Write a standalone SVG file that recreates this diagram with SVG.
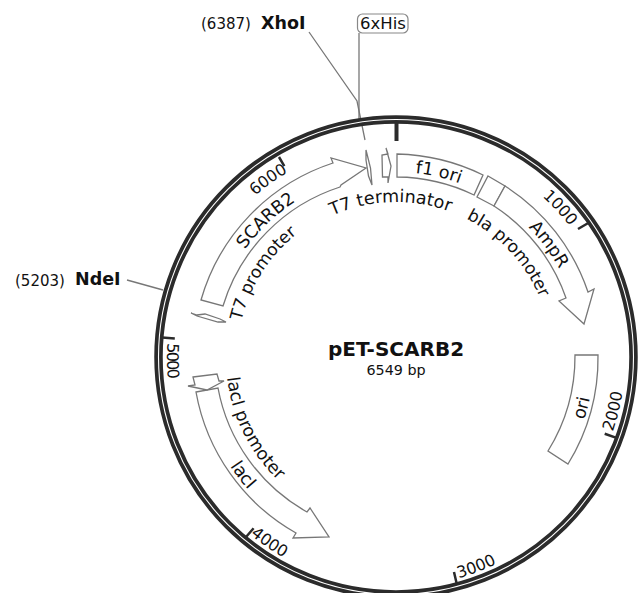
<svg xmlns="http://www.w3.org/2000/svg" width="638" height="593" viewBox="0 0 638 593">
<style>
text{font-family:"DejaVu Sans",Verdana,sans-serif;fill:#111}
.f{fill:#fff;stroke:#777;stroke-width:1.3;stroke-linejoin:miter}
.l{font-size:17.5px;text-anchor:middle}
.t{font-size:16px;text-anchor:middle}
.s{font-size:15px}
.b{font-size:17.500px;font-weight:bold}
.c{fill:none;stroke:#777;stroke-width:1.3}
.k{stroke:#2b2b2b;stroke-width:2.5}
</style>
<defs>
<path id="a218" d="M-218 0A218 218 0 0 1 218 0"/>
<path id="a215" d="M-215 0A215 215 0 0 1 215 0"/>
<path id="a186" d="M-186 0A186 186 0 0 1 186 0"/>
<path id="a159" d="M-159 0A159 159 0 0 1 159 0"/>
<path id="a156" d="M-156 0A156 156 0 0 1 156 0"/>
<path id="b229" d="M-229 0A229 229 0 0 0 229 0"/>
<path id="b198" d="M-198 0A198 198 0 0 0 198 0"/>
<path id="b170" d="M-170 0A170 170 0 0 0 170 0"/>
</defs>
<g id="connectors">
<path class="c" d="M309 32L357 101L365 140"/>
<path class="c" d="M359 33V120"/>
<path class="c" d="M127 280L163 290"/>
</g>
<g id="backbone">
<circle cx="396" cy="357" r="237.500" fill="none" stroke="#2b2b2b" stroke-width="8.500"/>
<circle cx="396" cy="357" r="237.500" fill="none" stroke="#fff" stroke-width="1.100"/>
<path stroke="#2b2b2b" stroke-width="4" d="M396.500 122V141"/>
<path class="k" d="M578 229L590 222M604.700 433.700L617.900 438.400M454 572L457 585M253.600 528.300L246 537M174.800 338.500L162 337.500M284.300 166.100L279 157"/>
</g>
<g id="ticks" transform="translate(396 358)">
<text class="t" transform="rotate(47.500)"><textPath href="#a218" startOffset="50%">1000</textPath></text>
<text class="t" transform="rotate(-76.300)"><textPath href="#b229" startOffset="50%">2000</textPath></text>
<text class="t" transform="rotate(-21)"><textPath href="#b229" startOffset="50%">3000</textPath></text>
<text class="t" transform="rotate(34.400)"><textPath href="#b229" startOffset="50%">4000</textPath></text>
<text class="t" transform="rotate(89.400)" letter-spacing="-1.500"><textPath href="#b229" startOffset="50%">5000</textPath></text>
<text class="t" transform="rotate(-35.600)"><textPath href="#a215" startOffset="50%">6000</textPath></text>
</g>
<g id="f1-ori">
<path class="f" d="M397 154A204 204 0 0 1 483 175L474 195A181 181 0 0 0 397 177Z"/>
<text class="l" transform="translate(396 358) rotate(13)"><textPath href="#a186" startOffset="50%">f1 ori</textPath></text>
</g>
<g id="bla-promoter">
<path class="f" d="M488 176L505 186L494 206L477 197Z"/>
<text class="l" transform="translate(396 358) rotate(47)" style="font-size:17px"><textPath href="#a156" startOffset="50%">bla promoter</textPath></text>
</g>
<g id="AmpR">
<path class="f" d="M505 186A203 203 0 0 1 588 292L594 289L584 324L559 301L566 298A180 180 0 0 0 494 206Z"/>
<text class="l" transform="translate(396 358) rotate(53.400)"><textPath href="#a186" startOffset="50%">AmpR</textPath></text>
</g>
<g id="ori">
<path class="f" d="M575 355H598A203 203 0 0 1 568 464L548 451A180 180 0 0 0 575 355Z"/>
<text class="l" transform="translate(396 358) rotate(-75)"><textPath href="#b198" startOffset="50%">ori</textPath></text>
</g>
<g id="lacI">
<path class="f" d="M196 392L218 388A180 180 0 0 0 307 512L310 508L329 537L293 538L296 533A203 203 0 0 1 196 392Z"/>
<text class="l" transform="translate(396 358) rotate(52.600)"><textPath href="#b198" startOffset="50%">lacI</textPath></text>
</g>
<g id="lacI-promoter">
<path class="f" d="M193 377L217 374L219 381L224 381L207 390L188 386L195 385Z"/>
<text class="l" transform="translate(396 358) rotate(63.700)"><textPath href="#b170" startOffset="50%">lacI promoter</textPath></text>
</g>
<g id="SCARB2">
<path class="f" d="M201 300A203 203 0 0 1 333 163L331 158L366 168L341 185L340 187A180 180 0 0 0 223 306Z"/>
<text class="l" transform="translate(396 358) rotate(-43.500)"><textPath href="#a186" startOffset="50%">SCARB2</textPath></text>
</g>
<g id="T7-promoter">
<path class="f" d="M191 313L197 315L205 314L220 319L226 322L218 322L197 316Z"/>
<text class="l" transform="translate(396 358) rotate(-57.500)" style="font-size:17px"><textPath href="#a159" startOffset="50%">T7 promoter</textPath></text>
</g>
<g id="XhoI-site">
<path class="f" d="M366 150L370.500 168L372 185L368.500 176L366 160Z"/>
<text class="s" x="201" y="29">(6387)</text>
<text class="b" x="261" y="29">XhoI</text>
</g>
<g id="T7-terminator">
<path class="f" d="M386 148L388 154L382 155L382.500 177L388 177L388 183L391 166Z"/>
<text class="l" transform="translate(396 358) rotate(-2)"><textPath href="#a156" startOffset="50%">T7 terminator</textPath></text>
</g>
<g id="tag-6xHis">
<rect x="357.500" y="14" width="50.500" height="19" rx="5" fill="#fff" stroke="#888" stroke-width="1.200"/>
<text x="360" y="29" font-size="16.500px">6xHis</text>
</g>
<g id="NdeI-site">
<text class="s" x="15" y="286">(5203)</text>
<text class="b" x="75" y="285">NdeI</text>
</g>
<g id="title">
<text x="396" y="356" text-anchor="middle" font-size="20px" font-weight="bold">pET-SCARB2</text>
<text x="396" y="375" text-anchor="middle" font-size="14.300px">6549 bp</text>
</g>
</svg>
